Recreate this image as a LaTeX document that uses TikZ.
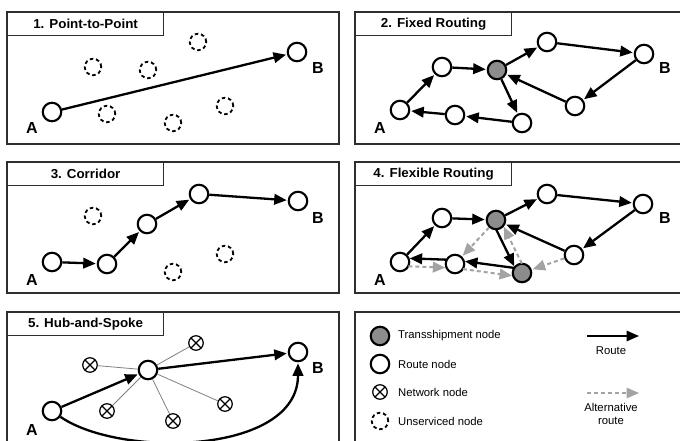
\documentclass[tikz,border=0pt]{standalone}
\usepackage{fontspec}
\setmainfont{Liberation Sans}
\newfontfamily\titlefont[FakeStretch=1.03]{Liberation Sans}
\usetikzlibrary{arrows.meta,calc}
\definecolor{transgray}{gray}{0.55}
\definecolor{altgray}{gray}{0.64}
\definecolor{framegray}{gray}{0.18}

\begin{document}
\begin{tikzpicture}[x=1pt, y=-1pt]
\tikzstyle{panel} = [draw = framegray, line width = 1.2pt]
\tikzstyle{titlebox} = [rectangle, draw = framegray, line width = 1.2pt, fill = white, anchor = north west, minimum width = 156pt, minimum height = 23pt, inner sep = 0pt, font = \titlefont\bfseries\fontsize{13}{14}\selectfont]
\tikzstyle{routenode} = [circle, draw = black, line width = 2.1pt, fill = white, minimum size = 18.5pt, inner sep = 0pt]
\tikzstyle{transnode} = [routenode, fill = transgray]
\tikzstyle{unserviced} = [circle, draw = black, line width = 1.8pt, dash pattern = on 3.5pt off 2.8pt, minimum size = 16.5pt, inner sep = 0pt]
\tikzstyle{netnode} = [circle, draw = black, line width = 1.2pt, fill = white, minimum size = 14.5pt, inner sep = 0pt,
  path picture = {\draw[line width = 1.1pt] (path picture bounding box.south west) -- (path picture bounding box.north east)
  (path picture bounding box.north west) -- (path picture bounding box.south east);}]
\tikzstyle{letter} = [font = \bfseries\fontsize{16}{16}\selectfont, inner sep = 0pt]
\tikzstyle{edge} = [-{Triangle[length = 12.5pt, width = 10.5pt]}, line width = 2.3pt, shorten > = 1pt]
\tikzstyle{altedge} = [-{Triangle[length = 12.5pt, width = 10.5pt]}, line width = 2pt, draw = altgray, dash pattern = on 4pt off 3pt, shorten > = 1pt]
\tikzstyle{spoke} = [draw = gray, line width = 0.8pt]
\tikzstyle{legendtext} = [anchor = west, inner sep = 0pt, font = \fontsize{11.3}{13}\selectfont]

\fill[white] (0, 0) rectangle (680, 441);
\useasboundingbox (0, 0) rectangle (680, 441);
% -----------------------------------
% Frames
\draw[panel] (7, 12) rectangle (339, 144);
\draw[panel] (355, 12) rectangle (687, 144);
\draw[panel] (7, 162) rectangle (339, 293);
\draw[panel] (355, 162) rectangle (687, 293);
\draw[panel] (7, 312) rectangle (339, 444);
\draw[panel] (355, 312) rectangle (687, 444);

\node[titlebox] (t1) at (7, 12) {1. Point-to-Point};
\node[titlebox] (t2) at (355, 12) {2. Fixed Routing};
\node[titlebox] (t3) at (7, 162) {3. Corridor};
\node[titlebox] (t4) at (355, 162) {4. Flexible Routing};
\node[titlebox] (t5) at (7, 312) {5. Hub-and-Spoke};

% -----------------------------------
% 1. Point-to-Point
\node[unserviced] (u11) at (93, 67) {};
\node[unserviced] (u12) at (148, 70) {};
\node[unserviced] (u13) at (198, 42) {};
\node[unserviced] (u14) at (107, 114) {};
\node[unserviced] (u15) at (173, 123) {};
\node[unserviced] (u16) at (225, 106) {};
\node[routenode] (A1) at (52, 112) {};
\node[routenode] (B1) at (297, 52) {};
\node[letter] (la1) at (32, 128) {A};
\node[letter] (lb1) at (318, 68) {B};

\draw[edge] (A1)--(B1);

% -----------------------------------
% 2. Fixed Routing
\node[routenode] (A2) at (400, 110) {};
\node[routenode] (r21) at (442, 67) {};
\node[transnode] (T2) at (497, 70) {};
\node[routenode] (r22) at (547, 42) {};
\node[routenode] (B2) at (644, 54) {};
\node[routenode] (r23) at (575, 106) {};
\node[routenode] (r24) at (522, 123) {};
\node[routenode] (r25) at (455, 115) {};
\node[letter] (la2) at (380, 128) {A};
\node[letter] (lb2) at (665, 68) {B};

\draw[edge] (A2)--(r21);
\draw[edge] (r21)--(T2);
\draw[edge] (T2)--(r22);
\draw[edge] (r22)--(B2);
\draw[edge] (B2)--(r23);
\draw[edge] (r23)--(T2);
\draw[edge] (T2)--(r24);
\draw[edge] (r24)--(r25);
\draw[edge] (r25)--(A2);

% -----------------------------------
% 3. Corridor
\node[unserviced] (u31) at (93, 216) {};
\node[unserviced] (u32) at (173, 272) {};
\node[unserviced] (u33) at (225, 254) {};
\node[routenode] (A3) at (52, 262) {};
\node[routenode] (c31) at (107, 264) {};
\node[routenode] (c32) at (147, 224) {};
\node[routenode] (c33) at (199, 194) {};
\node[routenode] (B3) at (298, 201) {};
\node[letter] (la3) at (32, 280) {A};
\node[letter] (lb3) at (318, 218) {B};

\draw[edge] (A3)--(c31);
\draw[edge] (c31)--(c32);
\draw[edge] (c32)--(c33);
\draw[edge] (c33)--(B3);

% -----------------------------------
% 4. Flexible Routing
\node[routenode] (A4) at (400, 262) {};
\node[routenode] (r41) at (442, 218) {};
\node[transnode] (T41) at (496, 220) {};
\node[routenode] (r42) at (547, 194) {};
\node[routenode] (B4) at (643, 204) {};
\node[routenode] (r43) at (574, 255) {};
\node[transnode] (T42) at (522, 273) {};
\node[routenode] (r44) at (455, 264) {};
\node[letter] (la4) at (380, 280) {A};
\node[letter] (lb4) at (665, 218) {B};

\draw[altedge] (T41)--(r44);
\draw[altedge] (r43)--(T42);
\draw[altedge, shorten < = 8.5pt, shorten > = 9.5pt] ($(T42)!4pt!-90:(T41)$)--($(T41)!4pt!90:(T42)$);
\draw[altedge, shorten < = 8.5pt, shorten > = 9.5pt] ($(A4)!4pt!-90:(r44)$)--($(r44)!4pt!90:(A4)$);
\draw[altedge, shorten < = 8.5pt, shorten > = 9.5pt] ($(r44)!4pt!-90:(T42)$)--($(T42)!4pt!90:(r44)$);

\draw[edge] (A4)--(r41);
\draw[edge] (r41)--(T41);
\draw[edge] (T41)--(r42);
\draw[edge] (r42)--(B4);
\draw[edge] (B4)--(r43);
\draw[edge] (r43)--(T41);
\draw[edge, shorten < = 8.5pt, shorten > = 9.5pt] ($(T41)!4pt!-90:(T42)$)--($(T42)!4pt!90:(T41)$);
\draw[edge, shorten < = 8.5pt, shorten > = 9.5pt] ($(T42)!4pt!-90:(r44)$)--($(r44)!4pt!90:(T42)$);
\draw[edge, shorten < = 8.5pt, shorten > = 9.5pt] ($(r44)!4pt!-90:(A4)$)--($(A4)!4pt!90:(r44)$);

% -----------------------------------
% 5. Hub-and-Spoke
\node[routenode] (A5) at (52, 411) {};
\node[routenode] (H5) at (148, 370) {};
\node[routenode] (B5) at (298, 352) {};
\node[netnode] (n51) at (90, 365) {};
\node[netnode] (n52) at (196, 343) {};
\node[netnode] (n53) at (107, 411) {};
\node[netnode] (n54) at (173, 421) {};
\node[netnode] (n55) at (225, 404) {};
\node[letter] (la5) at (32, 430) {A};
\node[letter] (lb5) at (318, 368) {B};

\draw[spoke] (H5)--(n51);
\draw[spoke] (H5)--(n52);
\draw[spoke] (H5)--(n53);
\draw[spoke] (H5)--(n54);
\draw[spoke] (H5)--(n55);

\draw[edge] (A5)--(H5);
\draw[edge] (H5)--(B5);
\draw[edge] (A5) .. controls (120, 458) and (298, 455) .. (B5);

% -----------------------------------
% Legend
\node[transnode] (k1) at (380, 336) {};
\node[routenode] (k2) at (380, 364) {};
\node[netnode] (k3) at (380, 392) {};
\node[unserviced] (k4) at (380, 421) {};
\node[legendtext] (kt1) at (398, 336) {Transshipment node};
\node[legendtext] (kt2) at (398, 364) {Route node};
\node[legendtext] (kt3) at (398, 392) {Network node};
\node[legendtext] (kt4) at (398, 421) {Unserviced node};

\coordinate (ra) at (587, 336);
\coordinate (rb) at (639, 336);
\coordinate (aa) at (587, 393);
\coordinate (ab) at (639, 393);
\draw[edge, line width = 1.8pt, shorten > = 0pt] (ra)--(rb);
\draw[altedge, line width = 1.6pt, shorten > = 0pt] (aa)--(ab);
\node[legendtext, anchor = center] (kr) at (611, 351) {Route};
\node[legendtext, anchor = center, align = center] (ka) at (611, 414) {Alternative\\route};
% -----------------------------------
\end{tikzpicture}
\end{document}
